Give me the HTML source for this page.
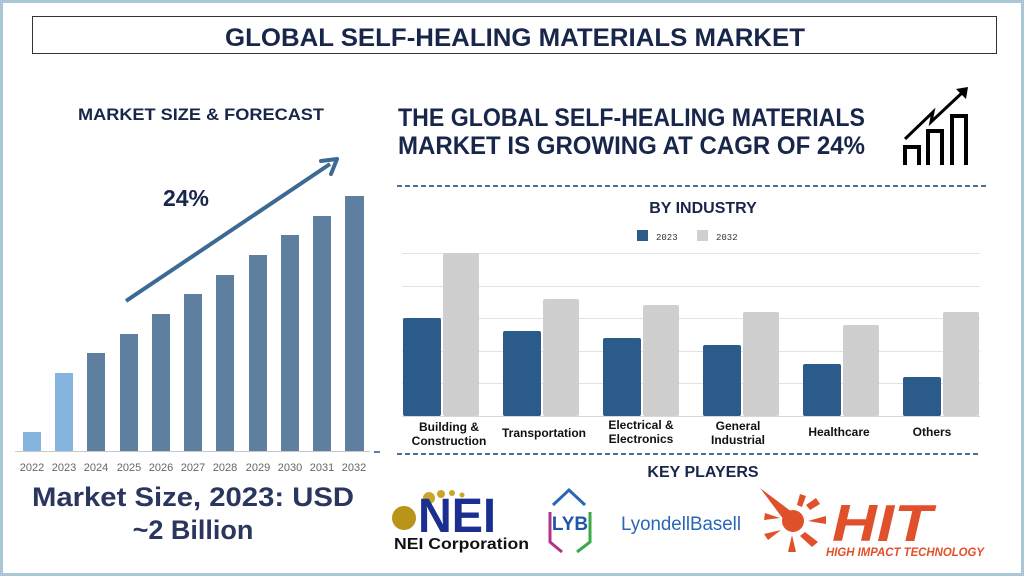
<!DOCTYPE html>
<html><head><meta charset="utf-8"><style>
html,body{margin:0;padding:0;background:#fff;}
svg{display:block;}
</style></head><body>
<svg width="1024" height="576" viewBox="0 0 1024 576" xmlns="http://www.w3.org/2000/svg" font-family="Liberation Sans, sans-serif">
<rect x="0" y="0" width="1024" height="576" fill="#fff"/>
<rect x="1.5" y="1.5" width="1021" height="573" fill="none" stroke="#a9c7d8" stroke-width="3"/>
<rect x="32.5" y="16.5" width="964" height="37" fill="#fff" stroke="#333" stroke-width="1"/>
<text x="515" y="46" text-anchor="middle" font-size="25" font-weight="bold" fill="#17264a" textLength="580" lengthAdjust="spacingAndGlyphs">GLOBAL SELF-HEALING MATERIALS MARKET</text>

<text x="201" y="120" text-anchor="middle" font-size="17" font-weight="bold" fill="#17264a" textLength="246" lengthAdjust="spacingAndGlyphs">MARKET SIZE &amp; FORECAST</text>
<text x="398" y="126" font-size="25" font-weight="bold" fill="#17264a" textLength="467" lengthAdjust="spacingAndGlyphs">THE GLOBAL SELF-HEALING MATERIALS</text>
<text x="398" y="154" font-size="25" font-weight="bold" fill="#17264a" textLength="467" lengthAdjust="spacingAndGlyphs">MARKET IS GROWING AT CAGR OF 24%</text>

<g fill="none" stroke="#000" stroke-width="4">
<path d="M905 165V147H919V165"/><path d="M928 165V131H942V165"/><path d="M952 165V116H966V165"/>
<path d="M905 139L933 112L931 122L964 91" stroke-width="3"/>
</g>
<path d="M968 87L956 89L966 99Z" fill="#000"/>

<g fill="#5f7fa0">
<rect x="23" y="432" width="18" height="19" fill="#85b4df"/>
<rect x="55" y="373" width="18" height="78" fill="#85b4df"/>
<rect x="87" y="353" width="18" height="98"/>
<rect x="120" y="334" width="18" height="117"/>
<rect x="152" y="314" width="18" height="137"/>
<rect x="184" y="294" width="18" height="157"/>
<rect x="216" y="275" width="18" height="176"/>
<rect x="249" y="255" width="18" height="196"/>
<rect x="281" y="235" width="18" height="216"/>
<rect x="313" y="216" width="18" height="235"/>
<rect x="345" y="196" width="19" height="255"/>
</g>
<line x1="15" y1="451.5" x2="370" y2="451.5" stroke="#c8c8c8" stroke-width="1"/>
<line x1="374" y1="452" x2="380" y2="452" stroke="#5f7fa0" stroke-width="2"/>
<line x1="126" y1="301" x2="330" y2="164" stroke="#3d6a95" stroke-width="4"/>
<path d="M337 159L321 161M337 159L331 174" stroke="#3d6a95" stroke-width="4" fill="none" stroke-linecap="round"/>
<text x="186" y="206" text-anchor="middle" font-size="23" font-weight="bold" fill="#17264a">24%</text>
<g font-size="11" fill="#666" text-anchor="middle">
<text x="32" y="471">2022</text><text x="64" y="471">2023</text><text x="96" y="471">2024</text><text x="129" y="471">2025</text><text x="161" y="471">2026</text><text x="193" y="471">2027</text><text x="225" y="471">2028</text><text x="258" y="471">2029</text><text x="290" y="471">2030</text><text x="322" y="471">2031</text><text x="354" y="471">2032</text>
</g>
<text x="193" y="506" text-anchor="middle" font-size="27" font-weight="bold" fill="#2a365e" textLength="322" lengthAdjust="spacingAndGlyphs">Market Size, 2023: USD</text>
<text x="193" y="539" text-anchor="middle" font-size="27" font-weight="bold" fill="#2a365e">~2 Billion</text>

<line x1="397" y1="186" x2="988" y2="186" stroke="#4a7296" stroke-width="2" stroke-dasharray="5,3"/>
<line x1="397" y1="454" x2="980" y2="454" stroke="#4a7296" stroke-width="2" stroke-dasharray="5,3"/>

<text x="703" y="213" text-anchor="middle" font-size="16" font-weight="bold" fill="#17264a">BY INDUSTRY</text>
<rect x="637" y="230" width="11" height="11" fill="#2b5b8a"/>
<text x="656" y="240" font-size="9" font-family="Liberation Mono, monospace" fill="#333">2023</text>
<rect x="697" y="230" width="11" height="11" fill="#cfcfcf"/>
<text x="716" y="240" font-size="9" font-family="Liberation Mono, monospace" fill="#333">2032</text>
<g stroke="#e2e2e2" stroke-width="1">
<line x1="402" y1="253.5" x2="980" y2="253.5"/><line x1="402" y1="286.5" x2="980" y2="286.5"/><line x1="402" y1="318.5" x2="980" y2="318.5"/><line x1="402" y1="351.5" x2="980" y2="351.5"/><line x1="402" y1="383.5" x2="980" y2="383.5"/>
</g>
<g fill="#2b5b8a">
<rect x="403" y="318" width="38" height="98" rx="2"/>
<rect x="503" y="331" width="38" height="85" rx="2"/>
<rect x="603" y="338" width="38" height="78" rx="2"/>
<rect x="703" y="345" width="38" height="71" rx="2"/>
<rect x="803" y="364" width="38" height="52" rx="2"/>
<rect x="903" y="377" width="38" height="39" rx="2"/>
</g>
<g fill="#cfcfcf">
<rect x="443" y="253" width="36" height="163" rx="2"/>
<rect x="543" y="299" width="36" height="117" rx="2"/>
<rect x="643" y="305" width="36" height="111" rx="2"/>
<rect x="743" y="312" width="36" height="104" rx="2"/>
<rect x="843" y="325" width="36" height="91" rx="2"/>
<rect x="943" y="312" width="36" height="104" rx="2"/>
</g>
<line x1="402" y1="416.5" x2="980" y2="416.5" stroke="#d8d8d8"/>
<g font-size="12" font-weight="bold" fill="#111" text-anchor="middle">
<text x="449" y="431">Building &amp;</text><text x="449" y="445">Construction</text>
<text x="544" y="437">Transportation</text>
<text x="641" y="429">Electrical &amp;</text><text x="641" y="443">Electronics</text>
<text x="738" y="430">General</text><text x="738" y="444">Industrial</text>
<text x="839" y="436">Healthcare</text>
<text x="932" y="436">Others</text>
</g>

<text x="703" y="477" text-anchor="middle" font-size="16" font-weight="bold" fill="#17264a">KEY PLAYERS</text>

<circle cx="404" cy="518" r="12" fill="#b8941a"/>
<circle cx="429" cy="498" r="6" fill="#c9a52a"/>
<circle cx="441" cy="494" r="4" fill="#c9a52a"/>
<circle cx="452" cy="493" r="3" fill="#c9a52a"/>
<circle cx="462" cy="495" r="2.5" fill="#c9a52a"/>
<text x="418" y="532" font-size="48" font-weight="bold" fill="#1a2f8f" textLength="78" lengthAdjust="spacingAndGlyphs">NEI</text>
<text x="394" y="549" font-size="16" font-weight="bold" fill="#111" textLength="135" lengthAdjust="spacingAndGlyphs">NEI Corporation</text>

<path d="M553 505L569 490L585 505" fill="none" stroke="#2a66b8" stroke-width="3"/>
<path d="M550 512V542L562 552" fill="none" stroke="#b0348a" stroke-width="3"/>
<path d="M590 512V542L577 552" fill="none" stroke="#3aaa4a" stroke-width="3"/>
<text x="570" y="530" text-anchor="middle" font-size="19" font-weight="bold" fill="#1f57a8">LYB</text>
<text x="621" y="530" font-size="19" fill="#2a66b8" textLength="120" lengthAdjust="spacingAndGlyphs">LyondellBasell</text>

<g fill="#e0502a">
<path d="M760 488L792 512L784 520Z"/>
<circle cx="793" cy="521" r="11"/>
<path d="M806 505L816 498L820 504L810 510Z"/>
<path d="M808 521L826 516L826 524Z"/>
<path d="M805 532L818 542L812 547L800 536Z"/>
<path d="M792 535L796 552L788 552Z"/>
<path d="M781 530L768 540L764 534Z"/>
<path d="M780 518L764 520L765 513Z"/>
<path d="M797 505L800 494L806 496L802 507Z"/>
</g>
<text x="832" y="541" font-size="52" font-weight="bold" font-style="italic" fill="#e0502a" textLength="100" lengthAdjust="spacingAndGlyphs">HIT</text>
<text x="826" y="556" font-size="12" font-weight="bold" font-style="italic" fill="#e0502a" textLength="158" lengthAdjust="spacingAndGlyphs">HIGH IMPACT TECHNOLOGY</text>
</svg>
</body></html>
